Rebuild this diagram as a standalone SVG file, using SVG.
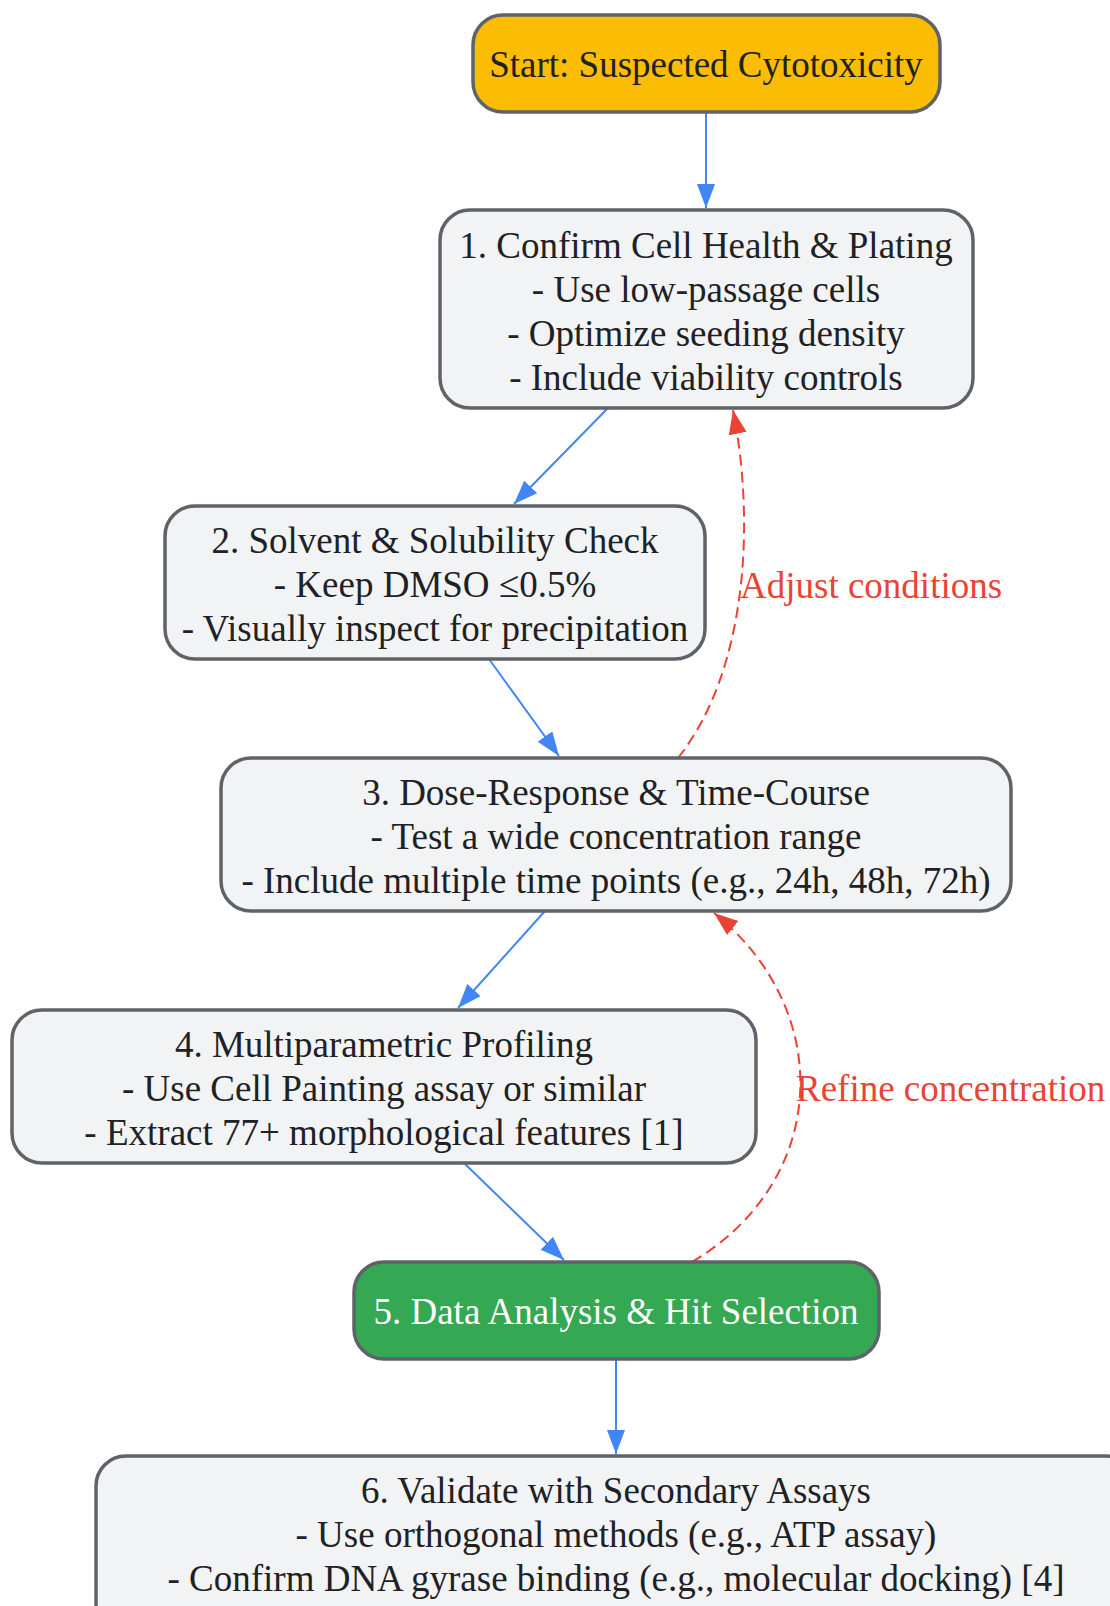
<svg xmlns="http://www.w3.org/2000/svg" width="1110" height="1606" viewBox="0 0 1110 1606">
<style>
.box{fill:#F1F3F4;stroke:#5F6368;stroke-width:3.5}
.t{font-family:"Liberation Serif","Times New Roman",serif;font-size:37px;fill:#202124;text-anchor:middle}
.w{fill:#FFFFFF}
.lbl{font-family:"Liberation Serif","Times New Roman",serif;font-size:37px;fill:#EA4335}
.e{fill:none;stroke:#4285F4;stroke-width:2}
.r{fill:none;stroke:#EA4335;stroke-width:2;stroke-dasharray:11,6}
</style>
<defs>
<marker id="ab" markerUnits="userSpaceOnUse" markerWidth="26" markerHeight="20" refX="24" refY="9" orient="auto"><path d="M0,0 L24,9 L0,18 Z" fill="#4285F4"/></marker>
<marker id="ar" markerUnits="userSpaceOnUse" markerWidth="26" markerHeight="20" refX="24" refY="9" orient="auto"><path d="M0,0 L24,9 L0,18 Z" fill="#EA4335"/></marker>
</defs>
<rect width="1110" height="1606" fill="#FFFFFF"/>
<g id="edges">
<path class="e" d="M706,112 L706,208" marker-end="url(#ab)"/>
<path class="e" d="M608,408 L514,504" marker-end="url(#ab)"/>
<path class="e" d="M489,659 L559,756" marker-end="url(#ab)"/>
<path class="e" d="M545,911 L458,1008" marker-end="url(#ab)"/>
<path class="e" d="M464,1163 L564,1260" marker-end="url(#ab)"/>
<path class="e" d="M616,1359 L616,1454" marker-end="url(#ab)"/>
<path class="r" d="M678,758 C748,670 755,520 733,410" marker-end="url(#ar)"/>
<text class="lbl" x="740" y="598">Adjust conditions</text>
<path class="r" d="M692,1262 C830,1180 835,1010 714,913" marker-end="url(#ar)"/>
<text class="lbl" x="796" y="1101">Refine concentration</text>
</g>
<g id="start">
<rect x="473" y="15" width="467" height="97" rx="30" fill="#FBBC04" stroke="#5F6368" stroke-width="3.5"/>
<text class="t" x="706" y="77">Start: Suspected Cytotoxicity</text>
</g>
<g id="n1">
<rect class="box" x="440" y="210" width="533" height="198" rx="30"/>
<text class="t" x="706" y="258">1. Confirm Cell Health &amp; Plating</text>
<text class="t" x="706" y="302">- Use low-passage cells</text>
<text class="t" x="706" y="346">- Optimize seeding density</text>
<text class="t" x="706" y="390">- Include viability controls</text>
</g>
<g id="n2">
<rect class="box" x="165" y="506" width="540" height="153" rx="30"/>
<text class="t" x="435" y="553">2. Solvent &amp; Solubility Check</text>
<text class="t" x="435" y="597">- Keep DMSO ≤0.5%</text>
<text class="t" x="435" y="641">- Visually inspect for precipitation</text>
</g>
<g id="n3">
<rect class="box" x="221" y="758" width="790" height="153" rx="30"/>
<text class="t" x="616" y="805">3. Dose-Response &amp; Time-Course</text>
<text class="t" x="616" y="849">- Test a wide concentration range</text>
<text class="t" x="616" y="893">- Include multiple time points (e.g., 24h, 48h, 72h)</text>
</g>
<g id="n4">
<rect class="box" x="12" y="1010" width="744" height="153" rx="30"/>
<text class="t" x="384" y="1057">4. Multiparametric Profiling</text>
<text class="t" x="384" y="1101">- Use Cell Painting assay or similar</text>
<text class="t" x="384" y="1145">- Extract 77+ morphological features [1]</text>
</g>
<g id="n5">
<rect x="354" y="1262" width="525" height="97" rx="30" fill="#34A853" stroke="#5F6368" stroke-width="3.5"/>
<text class="t w" x="616" y="1324">5. Data Analysis &amp; Hit Selection</text>
</g>
<g id="n6">
<rect class="box" x="96" y="1456" width="1040" height="190" rx="30"/>
<text class="t" x="616" y="1503">6. Validate with Secondary Assays</text>
<text class="t" x="616" y="1547">- Use orthogonal methods (e.g., ATP assay)</text>
<text class="t" x="616" y="1591">- Confirm DNA gyrase binding (e.g., molecular docking) [4]</text>
</g>
</svg>
